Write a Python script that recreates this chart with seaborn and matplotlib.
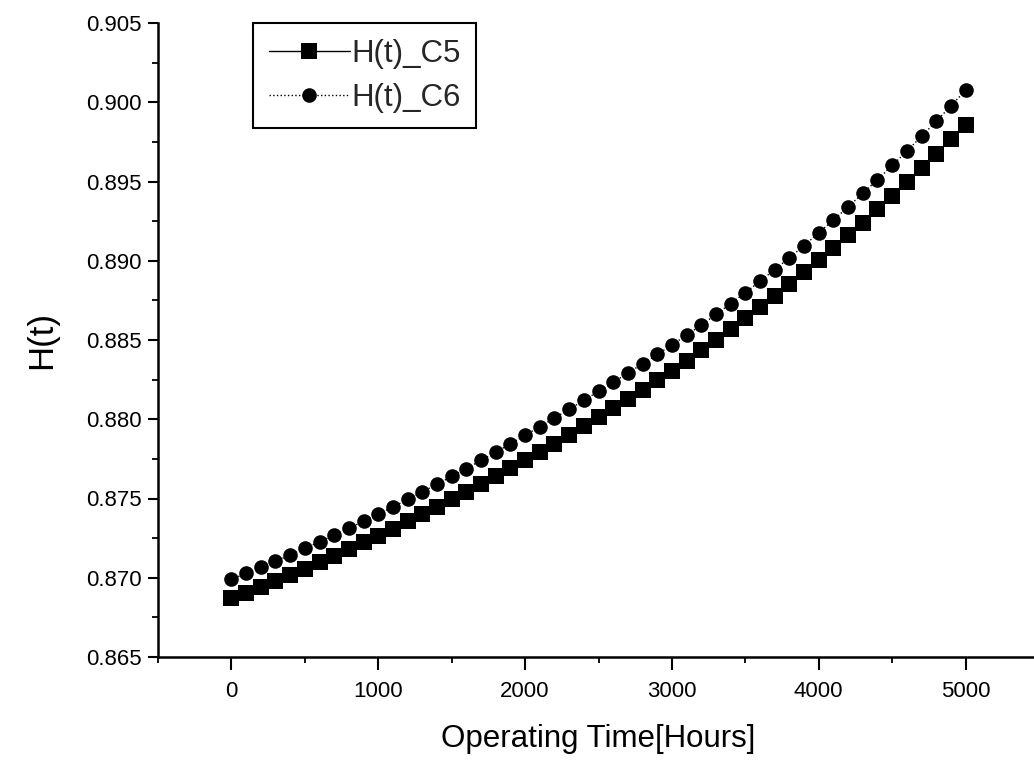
import matplotlib
matplotlib.use("Agg")
import matplotlib.pyplot as plt
import seaborn as sns
import pandas as pd
from matplotlib.ticker import MultipleLocator, FormatStrFormatter

# ---- data ----
hours = list(range(0, 5001, 100))

h_c5 = [0.86870, 0.86906, 0.86943, 0.86981, 0.87019, 0.87058, 0.87098, 0.87139,
        0.87181, 0.87223, 0.87266, 0.87310, 0.87355, 0.87401, 0.87447, 0.87494,
        0.87542, 0.87591, 0.87641, 0.87691, 0.87742, 0.87794, 0.87847, 0.87901,
        0.87956, 0.88012, 0.88069, 0.88127, 0.88186, 0.88246, 0.88307, 0.88370,
        0.88434, 0.88500, 0.88567, 0.88636, 0.88706, 0.88778, 0.88851, 0.88926,
        0.89002, 0.89080, 0.89160, 0.89241, 0.89324, 0.89409, 0.89495, 0.89583,
        0.89673, 0.89765, 0.89859]

h_c6 = [0.86990, 0.87027, 0.87065, 0.87104, 0.87144, 0.87185, 0.87227, 0.87269,
        0.87312, 0.87356, 0.87401, 0.87447, 0.87494, 0.87542, 0.87590, 0.87639,
        0.87689, 0.87740, 0.87792, 0.87845, 0.87899, 0.87953, 0.88008, 0.88063,
        0.88119, 0.88176, 0.88233, 0.88291, 0.88350, 0.88409, 0.88469, 0.88531,
        0.88595, 0.88661, 0.88729, 0.88799, 0.88871, 0.88944, 0.89019, 0.89096,
        0.89176, 0.89257, 0.89340, 0.89425, 0.89512, 0.89601, 0.89692, 0.89785,
        0.89880, 0.89977, 0.90076]

series_labels = ["H(t)_C5", "H(t)_C6"]
x_ticks = [0, 1000, 2000, 3000, 4000, 5000]
x_label = "Operating Time[Hours]"
y_label = "H(t)"

# ---- style ----
sns.set_theme(style="ticks")
plt.rcParams["font.family"] = ["Liberation Sans", "DejaVu Sans"]

W, H = 1034, 765
fig = plt.figure(figsize=(W / 100, H / 100), dpi=100)
fig.patch.set_facecolor("white")
ax = fig.add_axes([158 / W, (H - 657) / H, (1039 - 158) / W, (657 - 23) / H])
ax.set_facecolor("white")

sns.lineplot(x=hours, y=h_c5, ax=ax, color="black", linewidth=1.0,
             linestyle="-", marker="s", markersize=11,
             markeredgecolor="black", markeredgewidth=0,
             label=series_labels[0])
sns.lineplot(x=hours, y=h_c6, ax=ax, color="black", linewidth=1.0,
             linestyle=":", marker="o", markersize=10.5,
             markeredgecolor="black", markeredgewidth=0,
             label=series_labels[1])

ax.set_xlim(-500, 5500)
ax.set_ylim(0.865, 0.905)

ax.xaxis.set_major_locator(MultipleLocator(1000))
ax.xaxis.set_minor_locator(MultipleLocator(500))
ax.yaxis.set_major_locator(MultipleLocator(0.005))
ax.yaxis.set_minor_locator(MultipleLocator(0.0025))
ax.yaxis.set_major_formatter(FormatStrFormatter("%.3f"))
ax.set_xticks(x_ticks)
ax.set_xticklabels([str(v) for v in x_ticks])

for side in ["top", "right"]:
    ax.spines[side].set_visible(False)
for side in ["left", "bottom"]:
    ax.spines[side].set_linewidth(1.8)
    ax.spines[side].set_color("black")

ax.tick_params(axis="x", which="major", direction="out", length=9, width=1.5,
               pad=8, labelsize=16, colors="black")
ax.tick_params(axis="y", which="major", direction="out", length=7, width=1.5,
               pad=5, labelsize=16, colors="black")
ax.tick_params(axis="both", which="minor", direction="out", length=4, width=1.3,
               colors="black")

ax.set_xlabel(x_label, fontsize=22.5, color="black")
ax.set_ylabel(y_label, fontsize=25, color="black")
ax.xaxis.set_label_coords(0.5, -0.106)
ax.yaxis.set_label_coords(-0.1135, 0.5)

leg = ax.legend(loc="upper left", bbox_to_anchor=(253 / W, 1 - 23 / H),
                bbox_transform=fig.transFigure, borderaxespad=0,
                fontsize=22.5, frameon=True, fancybox=False, shadow=False,
                handlelength=2.6, handletextpad=0.05, borderpad=0.5,
                labelspacing=0.45, numpoints=1)
frame = leg.get_frame()
frame.set_edgecolor("black")
frame.set_linewidth(1.5)
frame.set_facecolor("white")
frame.set_alpha(1)

fig.savefig("out.png", dpi=100, facecolor="white")
